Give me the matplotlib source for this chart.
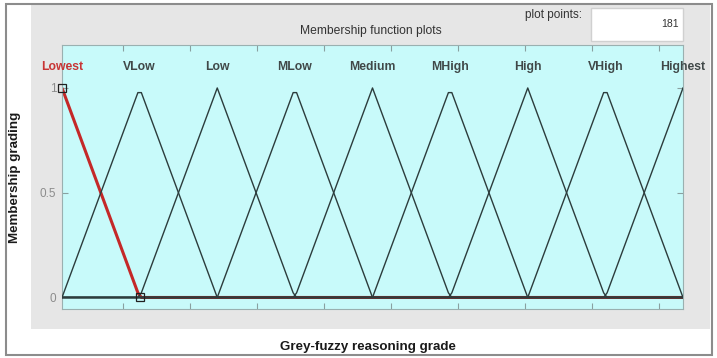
import numpy as np
import matplotlib.pyplot as plt
from matplotlib.patches import Rectangle

plt.rcParams['font.family'] = ['Liberation Sans', 'DejaVu Sans']

W, H = 717, 358

# membership functions (trimf a, b, c) on the universe [0, 8]
mf_names = ['Lowest', 'VLow', 'Low', 'MLow', 'Medium', 'MHigh', 'High', 'VHigh', 'Highest']
mf_a = [-1, 0, 1, 2, 3, 4, 5, 6, 7]
mf_b = [0, 1, 2, 3, 4, 5, 6, 7, 8]
mf_c = [1, 2, 3, 4, 5, 6, 7, 8, 9]
x_range = [0, 8]
plot_points = 181
selected = 0
y_ticks = [0, 0.5, 1]
y_ticklabels = ['0', '0.5', '1']


def px(x, y):
    # pixel -> figure fraction
    return x / W, 1 - y / H


def trimf(x, a, b, c):
    left = (x - a) / (b - a)
    right = (c - x) / (c - b)
    return np.clip(np.minimum(left, right), 0, 1)


fig = plt.figure(figsize=(W / 100, H / 100), dpi=100)
fig.patch.set_facecolor('white')

# grey panel and outer frame
fig.add_artist(Rectangle(px(31, 329), 679 / W, 325 / H, transform=fig.transFigure,
                         facecolor='#e6e6e6', edgecolor='none', zorder=0))
fig.add_artist(Rectangle(px(6, 355), 706 / W, 351 / H, transform=fig.transFigure,
                         facecolor='none', edgecolor='#8c8c8c', lw=1.5, zorder=5))
# plot points box
fig.add_artist(Rectangle(px(591, 41), 92 / W, 33 / H, transform=fig.transFigure,
                         facecolor='white', edgecolor='#d0d0d0', lw=1, zorder=1))
fig.text(*px(582, 15), 'plot points:', ha='right', va='center', fontsize=8.5, color='#333333')
fig.text(*px(679, 24), str(plot_points), ha='right', va='center', fontsize=7.5, color='#333333')
fig.text(*px(371, 31), 'Membership function plots', ha='center', va='center',
         fontsize=8.7, color='#333333')
fig.text(*px(368, 347), 'Grey-fuzzy reasoning grade', ha='center', va='center',
         fontsize=9.6, fontweight='bold', color='#1a1a1a')

l, b = px(62, 309)
ax = fig.add_axes([l, b, 621 / W, 264 / H])
ax.set_facecolor('#c8fafa')

x = np.linspace(x_range[0], x_range[1], plot_points)
for i, name in enumerate(mf_names):
    y = trimf(x, mf_a[i], mf_b[i], mf_c[i])
    if i == selected:
        ax.plot(x, y, color='#c42828', lw=2.2, zorder=2, solid_capstyle='butt')
        ax.plot([mf_b[i], mf_c[i]], [1, 0], ls='none', marker='s', ms=6,
                mfc='none', mec='#202020', mew=0.9, zorder=4, clip_on=False)
        col = '#c83434'
    else:
        col = '#404848'
        ax.plot(x, y, color='#2c3c3c', lw=1.0, zorder=3)
    ax.text(mf_b[i], 1.1, name, ha='center', va='center', fontsize=8.8,
            color=col, fontweight='bold', clip_on=False)

ax.set_xlim(x_range)
ax.set_ylim(-0.055, 1.205)
ax.set_xticks(np.arange(9) * 0.863 + 0.786)
ax.set_xticklabels([])
ax.set_yticks(y_ticks)
ax.set_yticklabels(y_ticklabels)
ax.tick_params(axis='both', direction='in', length=4, color='#8aa0a0', width=0.8,
               top=True, right=True, labelsize=8.5, labelcolor='#8c8c8c', pad=4)
for s in ax.spines.values():
    s.set_color('#9ab0b0')
    s.set_linewidth(0.8)

ax.set_ylabel('Membership grading', fontsize=9.6, fontweight='bold', color='#1a1a1a')
ax.yaxis.set_label_coords(-(62 - 21) / 621, 0.5)

fig.savefig('out.png', dpi=100)
